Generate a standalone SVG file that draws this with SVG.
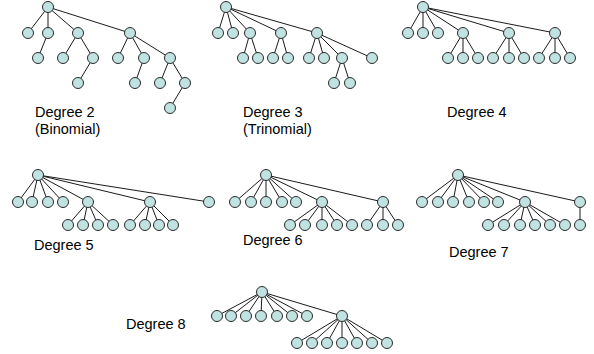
<svg xmlns="http://www.w3.org/2000/svg" width="594" height="354" viewBox="0 0 594 354">
  <style>
    .edge { stroke: #1a1a1a; stroke-width: 1; fill: none; }
    .node { fill: #c0e3e1; stroke: #2b2b2b; stroke-width: 1; }
    .label { font-family: "Liberation Sans", Arial, sans-serif; font-size: 14.5px; fill: #000; }
  </style>
  <defs>
    <circle id="dot" r="5.5"/>
  </defs>
  <rect width="594" height="354" fill="#fff"/>

  <!-- connectors -->
  <g id="connectors" class="edge">
    <!-- degree 2 -->
    <path d="M48 7L28 33M48 7L48 33M48 7L78 33M48 7L130 33M48 33L38 58M78 33L63 58M78 33L93 58M93 58L78 83M130 33L118 58M130 33L144 58M130 33L170 58M144 58L135 83M170 58L160 83M170 58L185 83M185 83L170 108"/>
    <!-- degree 3 -->
    <path d="M226 7L218 33M226 7L233 33M226 7L250 33M226 7L281 33M226 7L317 33M250 33L243 58M250 33L258 58M281 33L273 58M281 33L288 58M317 33L309 58M317 33L324 58M317 33L342 58M317 33L372 58M342 58L334 83M342 58L350 83"/>
    <!-- degree 4 -->
    <path d="M423 7L408 33M423 7L423 33M423 7L438 33M423 7L463 33M423 7L509 33M423 7L555 33M463 33L448 58M463 33L463 58M463 33L478 58M509 33L493 58M509 33L509 58M509 33L524 58M555 33L539 58M555 33L555 58M555 33L570 58"/>
    <!-- degree 5 -->
    <path d="M38 175L18 202M38 175L32 202M38 175L48 202M38 175L63 202M38 175L88 202M38 175L150 202M38 175L209 202M88 202L68 225M88 202L83 225M88 202L98 225M88 202L113 225M150 202L130 225M150 202L145 225M150 202L159 225M150 202L173 225"/>
    <!-- degree 6 -->
    <path d="M266 175L235 202M266 175L251 202M266 175L266 202M266 175L282 202M266 175L296 202M266 175L322 202M266 175L383 202M322 202L290 225M322 202L305 225M322 202L322 225M322 202L337 225M322 202L352 225M383 202L367 225M383 202L383 225M383 202L398 225"/>
    <!-- degree 7 -->
    <path d="M458 175L422 202M458 175L438 202M458 175L453 202M458 175L469 202M458 175L484 202M458 175L498 202M458 175L525 202M458 175L580 202M525 202L488 225M525 202L504 225M525 202L520 225M525 202L535 225M525 202L550 225M525 202L565 225M580 202L580 225"/>
    <!-- degree 8 -->
    <path d="M262 292L217 316M262 292L231 316M262 292L246 316M262 292L261 316M262 292L277 316M262 292L292 316M262 292L307 316M262 292L342 316M342 316L297 343M342 316L312 343M342 316L327 343M342 316L342 343M342 316L357 343M342 316L372 343M342 316L387 343"/>
  </g>

  <!-- degree 2 nodes -->
  <g id="tree-d2">
    <g id="d2-n0" class="node"><use href="#dot" x="48" y="7"/></g>
    <g id="d2-n1" class="node"><use href="#dot" x="28" y="33"/></g>
    <g id="d2-n2" class="node"><use href="#dot" x="48" y="33"/></g>
    <g id="d2-n3" class="node"><use href="#dot" x="78" y="33"/></g>
    <g id="d2-n4" class="node"><use href="#dot" x="130" y="33"/></g>
    <g id="d2-n5" class="node"><use href="#dot" x="38" y="58"/></g>
    <g id="d2-n6" class="node"><use href="#dot" x="63" y="58"/></g>
    <g id="d2-n7" class="node"><use href="#dot" x="93" y="58"/></g>
    <g id="d2-n8" class="node"><use href="#dot" x="78" y="83"/></g>
    <g id="d2-n9" class="node"><use href="#dot" x="118" y="58"/></g>
    <g id="d2-n10" class="node"><use href="#dot" x="144" y="58"/></g>
    <g id="d2-n11" class="node"><use href="#dot" x="170" y="58"/></g>
    <g id="d2-n12" class="node"><use href="#dot" x="135" y="83"/></g>
    <g id="d2-n13" class="node"><use href="#dot" x="160" y="83"/></g>
    <g id="d2-n14" class="node"><use href="#dot" x="185" y="83"/></g>
    <g id="d2-n15" class="node"><use href="#dot" x="170" y="108"/></g>
  </g>

  <!-- degree 3 nodes -->
  <g id="tree-d3">
    <g id="d3-n0" class="node"><use href="#dot" x="226" y="7"/></g>
    <g id="d3-n1" class="node"><use href="#dot" x="218" y="33"/></g>
    <g id="d3-n2" class="node"><use href="#dot" x="233" y="33"/></g>
    <g id="d3-n3" class="node"><use href="#dot" x="250" y="33"/></g>
    <g id="d3-n4" class="node"><use href="#dot" x="281" y="33"/></g>
    <g id="d3-n5" class="node"><use href="#dot" x="317" y="33"/></g>
    <g id="d3-n6" class="node"><use href="#dot" x="243" y="58"/></g>
    <g id="d3-n7" class="node"><use href="#dot" x="258" y="58"/></g>
    <g id="d3-n8" class="node"><use href="#dot" x="273" y="58"/></g>
    <g id="d3-n9" class="node"><use href="#dot" x="288" y="58"/></g>
    <g id="d3-n10" class="node"><use href="#dot" x="309" y="58"/></g>
    <g id="d3-n11" class="node"><use href="#dot" x="324" y="58"/></g>
    <g id="d3-n12" class="node"><use href="#dot" x="342" y="58"/></g>
    <g id="d3-n13" class="node"><use href="#dot" x="372" y="58"/></g>
    <g id="d3-n14" class="node"><use href="#dot" x="334" y="83"/></g>
    <g id="d3-n15" class="node"><use href="#dot" x="350" y="83"/></g>
  </g>

  <!-- degree 4 nodes -->
  <g id="tree-d4">
    <g id="d4-n0" class="node"><use href="#dot" x="423" y="7"/></g>
    <g id="d4-n1" class="node"><use href="#dot" x="408" y="33"/></g>
    <g id="d4-n2" class="node"><use href="#dot" x="423" y="33"/></g>
    <g id="d4-n3" class="node"><use href="#dot" x="438" y="33"/></g>
    <g id="d4-n4" class="node"><use href="#dot" x="463" y="33"/></g>
    <g id="d4-n5" class="node"><use href="#dot" x="509" y="33"/></g>
    <g id="d4-n6" class="node"><use href="#dot" x="555" y="33"/></g>
    <g id="d4-n7" class="node"><use href="#dot" x="448" y="58"/></g>
    <g id="d4-n8" class="node"><use href="#dot" x="463" y="58"/></g>
    <g id="d4-n9" class="node"><use href="#dot" x="478" y="58"/></g>
    <g id="d4-n10" class="node"><use href="#dot" x="493" y="58"/></g>
    <g id="d4-n11" class="node"><use href="#dot" x="509" y="58"/></g>
    <g id="d4-n12" class="node"><use href="#dot" x="524" y="58"/></g>
    <g id="d4-n13" class="node"><use href="#dot" x="539" y="58"/></g>
    <g id="d4-n14" class="node"><use href="#dot" x="555" y="58"/></g>
    <g id="d4-n15" class="node"><use href="#dot" x="570" y="58"/></g>
  </g>

  <!-- degree 5 nodes -->
  <g id="tree-d5">
    <g id="d5-n0" class="node"><use href="#dot" x="38" y="175"/></g>
    <g id="d5-n1" class="node"><use href="#dot" x="18" y="202"/></g>
    <g id="d5-n2" class="node"><use href="#dot" x="32" y="202"/></g>
    <g id="d5-n3" class="node"><use href="#dot" x="48" y="202"/></g>
    <g id="d5-n4" class="node"><use href="#dot" x="63" y="202"/></g>
    <g id="d5-n5" class="node"><use href="#dot" x="88" y="202"/></g>
    <g id="d5-n6" class="node"><use href="#dot" x="150" y="202"/></g>
    <g id="d5-n7" class="node"><use href="#dot" x="209" y="202"/></g>
    <g id="d5-n8" class="node"><use href="#dot" x="68" y="225"/></g>
    <g id="d5-n9" class="node"><use href="#dot" x="83" y="225"/></g>
    <g id="d5-n10" class="node"><use href="#dot" x="98" y="225"/></g>
    <g id="d5-n11" class="node"><use href="#dot" x="113" y="225"/></g>
    <g id="d5-n12" class="node"><use href="#dot" x="130" y="225"/></g>
    <g id="d5-n13" class="node"><use href="#dot" x="145" y="225"/></g>
    <g id="d5-n14" class="node"><use href="#dot" x="159" y="225"/></g>
    <g id="d5-n15" class="node"><use href="#dot" x="173" y="225"/></g>
  </g>

  <!-- degree 6 nodes -->
  <g id="tree-d6">
    <g id="d6-n0" class="node"><use href="#dot" x="266" y="175"/></g>
    <g id="d6-n1" class="node"><use href="#dot" x="235" y="202"/></g>
    <g id="d6-n2" class="node"><use href="#dot" x="251" y="202"/></g>
    <g id="d6-n3" class="node"><use href="#dot" x="266" y="202"/></g>
    <g id="d6-n4" class="node"><use href="#dot" x="282" y="202"/></g>
    <g id="d6-n5" class="node"><use href="#dot" x="296" y="202"/></g>
    <g id="d6-n6" class="node"><use href="#dot" x="322" y="202"/></g>
    <g id="d6-n7" class="node"><use href="#dot" x="383" y="202"/></g>
    <g id="d6-n8" class="node"><use href="#dot" x="290" y="225"/></g>
    <g id="d6-n9" class="node"><use href="#dot" x="305" y="225"/></g>
    <g id="d6-n10" class="node"><use href="#dot" x="322" y="225"/></g>
    <g id="d6-n11" class="node"><use href="#dot" x="337" y="225"/></g>
    <g id="d6-n12" class="node"><use href="#dot" x="352" y="225"/></g>
    <g id="d6-n13" class="node"><use href="#dot" x="367" y="225"/></g>
    <g id="d6-n14" class="node"><use href="#dot" x="383" y="225"/></g>
    <g id="d6-n15" class="node"><use href="#dot" x="398" y="225"/></g>
  </g>

  <!-- degree 7 nodes -->
  <g id="tree-d7">
    <g id="d7-n0" class="node"><use href="#dot" x="458" y="175"/></g>
    <g id="d7-n1" class="node"><use href="#dot" x="422" y="202"/></g>
    <g id="d7-n2" class="node"><use href="#dot" x="438" y="202"/></g>
    <g id="d7-n3" class="node"><use href="#dot" x="453" y="202"/></g>
    <g id="d7-n4" class="node"><use href="#dot" x="469" y="202"/></g>
    <g id="d7-n5" class="node"><use href="#dot" x="484" y="202"/></g>
    <g id="d7-n6" class="node"><use href="#dot" x="498" y="202"/></g>
    <g id="d7-n7" class="node"><use href="#dot" x="525" y="202"/></g>
    <g id="d7-n8" class="node"><use href="#dot" x="580" y="202"/></g>
    <g id="d7-n9" class="node"><use href="#dot" x="488" y="225"/></g>
    <g id="d7-n10" class="node"><use href="#dot" x="504" y="225"/></g>
    <g id="d7-n11" class="node"><use href="#dot" x="520" y="225"/></g>
    <g id="d7-n12" class="node"><use href="#dot" x="535" y="225"/></g>
    <g id="d7-n13" class="node"><use href="#dot" x="550" y="225"/></g>
    <g id="d7-n14" class="node"><use href="#dot" x="565" y="225"/></g>
    <g id="d7-n15" class="node"><use href="#dot" x="580" y="225"/></g>
  </g>

  <!-- degree 8 nodes -->
  <g id="tree-d8">
    <g id="d8-n0" class="node"><use href="#dot" x="262" y="292"/></g>
    <g id="d8-n1" class="node"><use href="#dot" x="217" y="316"/></g>
    <g id="d8-n2" class="node"><use href="#dot" x="231" y="316"/></g>
    <g id="d8-n3" class="node"><use href="#dot" x="246" y="316"/></g>
    <g id="d8-n4" class="node"><use href="#dot" x="261" y="316"/></g>
    <g id="d8-n5" class="node"><use href="#dot" x="277" y="316"/></g>
    <g id="d8-n6" class="node"><use href="#dot" x="292" y="316"/></g>
    <g id="d8-n7" class="node"><use href="#dot" x="307" y="316"/></g>
    <g id="d8-n8" class="node"><use href="#dot" x="342" y="316"/></g>
    <g id="d8-n9" class="node"><use href="#dot" x="297" y="343"/></g>
    <g id="d8-n10" class="node"><use href="#dot" x="312" y="343"/></g>
    <g id="d8-n11" class="node"><use href="#dot" x="327" y="343"/></g>
    <g id="d8-n12" class="node"><use href="#dot" x="342" y="343"/></g>
    <g id="d8-n13" class="node"><use href="#dot" x="357" y="343"/></g>
    <g id="d8-n14" class="node"><use href="#dot" x="372" y="343"/></g>
    <g id="d8-n15" class="node"><use href="#dot" x="387" y="343"/></g>
  </g>

  <!-- captions -->
  <g id="labels" class="label">
    <text x="35" y="117">Degree 2</text>
    <text x="35" y="134">(Binomial)</text>
    <text x="243" y="117">Degree 3</text>
    <text x="243" y="134">(Trinomial)</text>
    <text x="447" y="117">Degree 4</text>
    <text x="34" y="250">Degree 5</text>
    <text x="243" y="245">Degree 6</text>
    <text x="449" y="257">Degree 7</text>
    <text x="126" y="329">Degree 8</text>
  </g>
</svg>
